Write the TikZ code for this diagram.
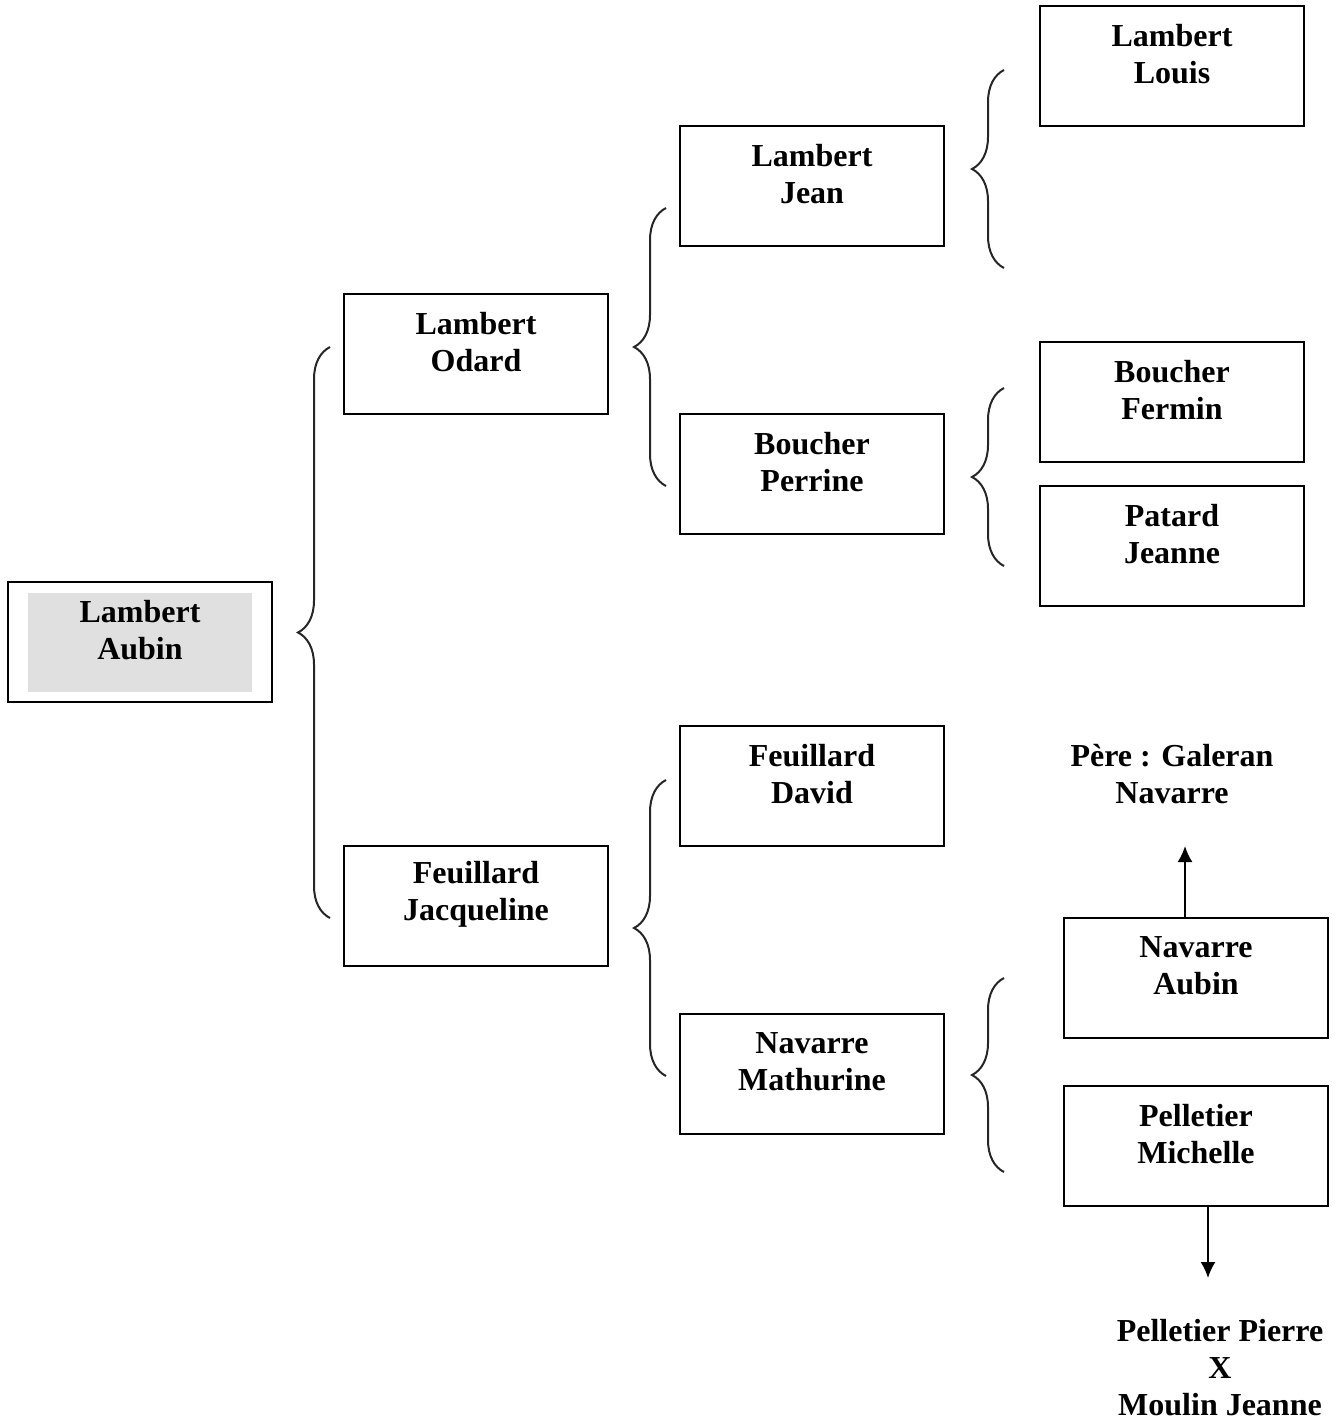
\documentclass[tikz,border=0pt]{standalone}
\usepackage{fontspec}
\setmainfont{Liberation Serif}
\usetikzlibrary{decorations.pathreplacing,arrows.meta}
\begin{document}
\begin{tikzpicture}[x=0.5pt,y=-0.5pt,
  box/.style={draw=black,line width=1pt,rectangle,minimum width=132pt,minimum height=60pt,inner sep=0pt},
  lbl/.style={font=\fontsize{16}{18.5}\selectfont\bfseries,align=center,inner sep=0pt},
  brc/.style={decorate,decoration={brace,amplitude=16pt},line width=1pt,draw=black!85},
  arr/.style={line width=1pt,-{Latex[length=8pt,width=7.5pt]}}]
\useasboundingbox (0,0) rectangle (1341,1420);
% root
\node[box] (aubin) at (140,642) {};
\node[fill=black!12,minimum width=112pt,minimum height=49.5pt,inner sep=0pt] (aubinbg) at (140,642.5) {};
\node[lbl] (aubint) at (140,630) {Lambert\\Aubin};
% generation 1
\node[box] (odard) at (476,354) {};
\node[lbl] (odardt) at (476,342) {Lambert\\Odard};
\node[box] (jacq) at (476,906) {};
\node[lbl] (jacqt) at (476,894) {Feuillard\\Jacqueline};
% generation 2
\node[box] (jean) at (812,186) {};
\node[lbl] (jeant) at (812,174) {Lambert\\Jean};
\node[box] (perrine) at (812,474) {};
\node[lbl] (perrinet) at (812,462) {Boucher\\Perrine};
\node[box] (david) at (812,786) {};
\node[lbl] (davidt) at (812,774) {Feuillard\\David};
\node[box] (mathurine) at (812,1074) {};
\node[lbl] (mathurinet) at (812,1062) {Navarre\\Mathurine};
% generation 3
\node[box] (louis) at (1172,66) {};
\node[lbl] (louist) at (1172,54) {Lambert\\Louis};
\node[box] (fermin) at (1172,402) {};
\node[lbl] (fermint) at (1172,390) {Boucher\\Fermin};
\node[box] (patard) at (1172,546) {};
\node[lbl] (patardt) at (1172,534) {Patard\\Jeanne};
\node[box] (navaubin) at (1196,978) {};
\node[lbl] (navaubint) at (1196,966) {Navarre\\Aubin};
\node[box] (michelle) at (1196,1146) {};
\node[lbl] (michellet) at (1196,1134) {Pelletier\\Michelle};
% extra texts
\node[lbl] (galeran) at (1172,774) {Père : Galeran\\Navarre};
\node[lbl] (pierre) at (1220,1368) {Pelletier Pierre\\X\\Moulin Jeanne};
% arrows
\coordinate (upend) at (1185,846);
\coordinate (downend) at (1208,1278);
\draw[arr] (navaubin.north -| upend) -- (upend);
\draw[arr] (michelle.south -| downend) -- (downend);
% braces
\draw[brc] (330,918) -- (330,347);
\draw[brc] (666,486) -- (666,208);
\draw[brc] (666,1076) -- (666,780);
\draw[brc] (1004,268) -- (1004,70);
\draw[brc] (1004,566) -- (1004,388);
\draw[brc] (1004,1172) -- (1004,978);
\end{tikzpicture}
\end{document}
